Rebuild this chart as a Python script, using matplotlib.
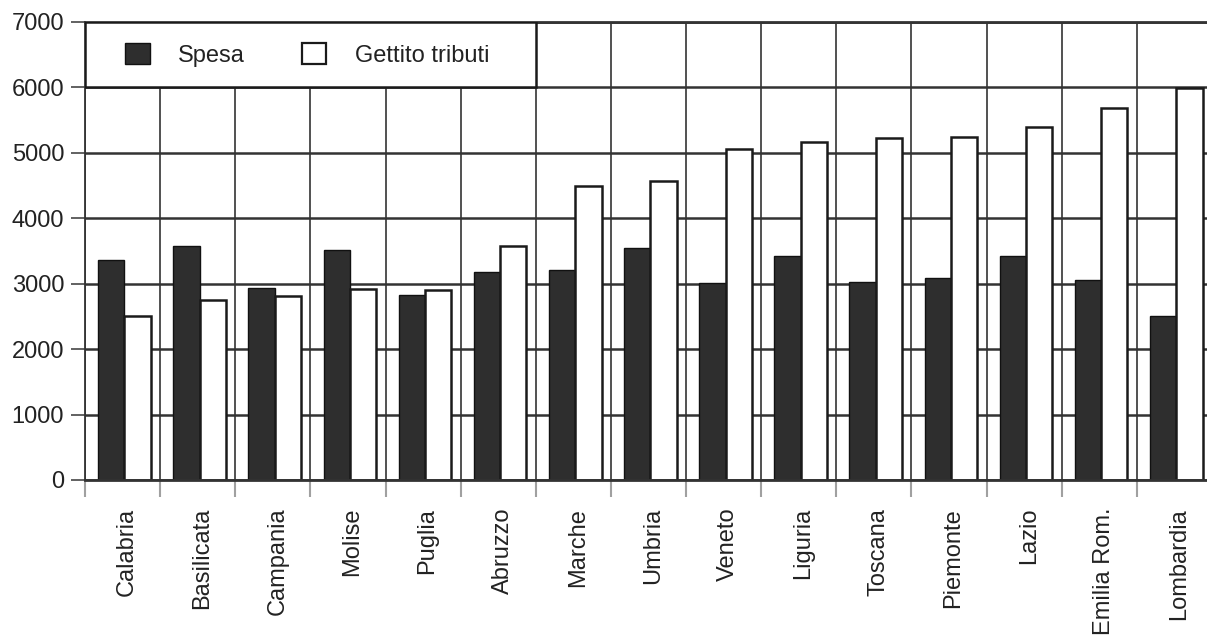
import numpy as np
import matplotlib
matplotlib.use("Agg")
import matplotlib.pyplot as plt
from matplotlib.patches import Rectangle, Patch

plt.rcParams['font.family'] = ['Liberation Sans', 'DejaVu Sans']

# data
regioni = ['Calabria', 'Basilicata', 'Campania', 'Molise', 'Puglia', 'Abruzzo',
           'Marche', 'Umbria', 'Veneto', 'Liguria', 'Toscana', 'Piemonte',
           'Lazio', 'Emilia Rom.', 'Lombardia']
spesa = [3360, 3575, 2930, 3520, 2830, 3175, 3205, 3545, 3010, 3420, 3025, 3090,
         3420, 3050, 2510]
gettito = [2510, 2745, 2810, 2920, 2900, 3575, 4490, 4570, 5060, 5160, 5230, 5250,
           5400, 5690, 5990]
y_ticks = [0, 1000, 2000, 3000, 4000, 5000, 6000, 7000]

dark = '#2e2e2e'
line = '#333333'

fig = plt.figure(figsize=(12.07, 6.37), dpi=100)
# right edge of the chart runs slightly past the picture, as in the scan
ax = fig.add_axes([85 / 1207, 1 - 480 / 637, (1212 - 85) / 1207, (480 - 22) / 637])

x = np.arange(len(regioni))
w = 0.35
ax.bar(x - 0.15, spesa, w, color=dark, edgecolor='#111111', linewidth=1.0, zorder=2)
ax.bar(x + 0.20, gettito, w, color='white', edgecolor='#1a1a1a', linewidth=1.8, zorder=2)

ax.set_xlim(-0.5, len(regioni) - 0.5)
ax.set_ylim(0, 7000)

# grid on category boundaries and every 1000
ax.set_xticks(np.arange(-0.5, len(regioni), 1.0))
ax.set_xticklabels([])
ax.set_xticks(x + 0.06, minor=True)
ax.set_xticklabels(regioni, minor=True, rotation=90, fontsize=17, color='#222222')
ax.tick_params(axis='x', which='major', length=12, width=1.5, color='#a0a0a0', direction='out')
ax.tick_params(axis='x', which='minor', length=0, pad=20)

ax.set_yticks(y_ticks)
ax.set_yticklabels([str(v) for v in y_ticks], fontsize=17, color='#222222')
ax.tick_params(axis='y', length=10, width=1.3, color='#555555', pad=5)

ax.set_axisbelow(True)
ax.grid(axis='y', color=line, linewidth=1.8)
ax.grid(axis='x', which='major', color=line, linewidth=1.2)

for s in ['left', 'top', 'bottom', 'right']:
    ax.spines[s].set_color(line)
ax.spines['left'].set_linewidth(1.3)
ax.spines['top'].set_linewidth(2.0)
ax.spines['bottom'].set_linewidth(2.0)

# legend box sitting in the top left cells
ax.add_patch(Rectangle((-0.5, 6000), 6, 1000, facecolor='white', edgecolor='#1a1a1a',
                       linewidth=1.8, zorder=4))
handles = [Patch(facecolor=dark, edgecolor='#111111', label='Spesa'),
           Patch(facecolor='white', edgecolor='#1a1a1a', linewidth=1.6, label='Gettito tributi')]
leg = ax.legend(handles=handles, loc='center left', bbox_to_anchor=(-0.5 + 40 / 75.3, 6500),
                bbox_transform=ax.transData, ncol=2, frameon=False, fontsize=17,
                handlelength=1.05, handleheight=1.0, handletextpad=1.2, columnspacing=2.4,
                borderpad=0, borderaxespad=0)
leg.set_zorder(5)
for t in leg.get_texts():
    t.set_color('#222222')

fig.savefig('out.png', dpi=100, facecolor='white')
